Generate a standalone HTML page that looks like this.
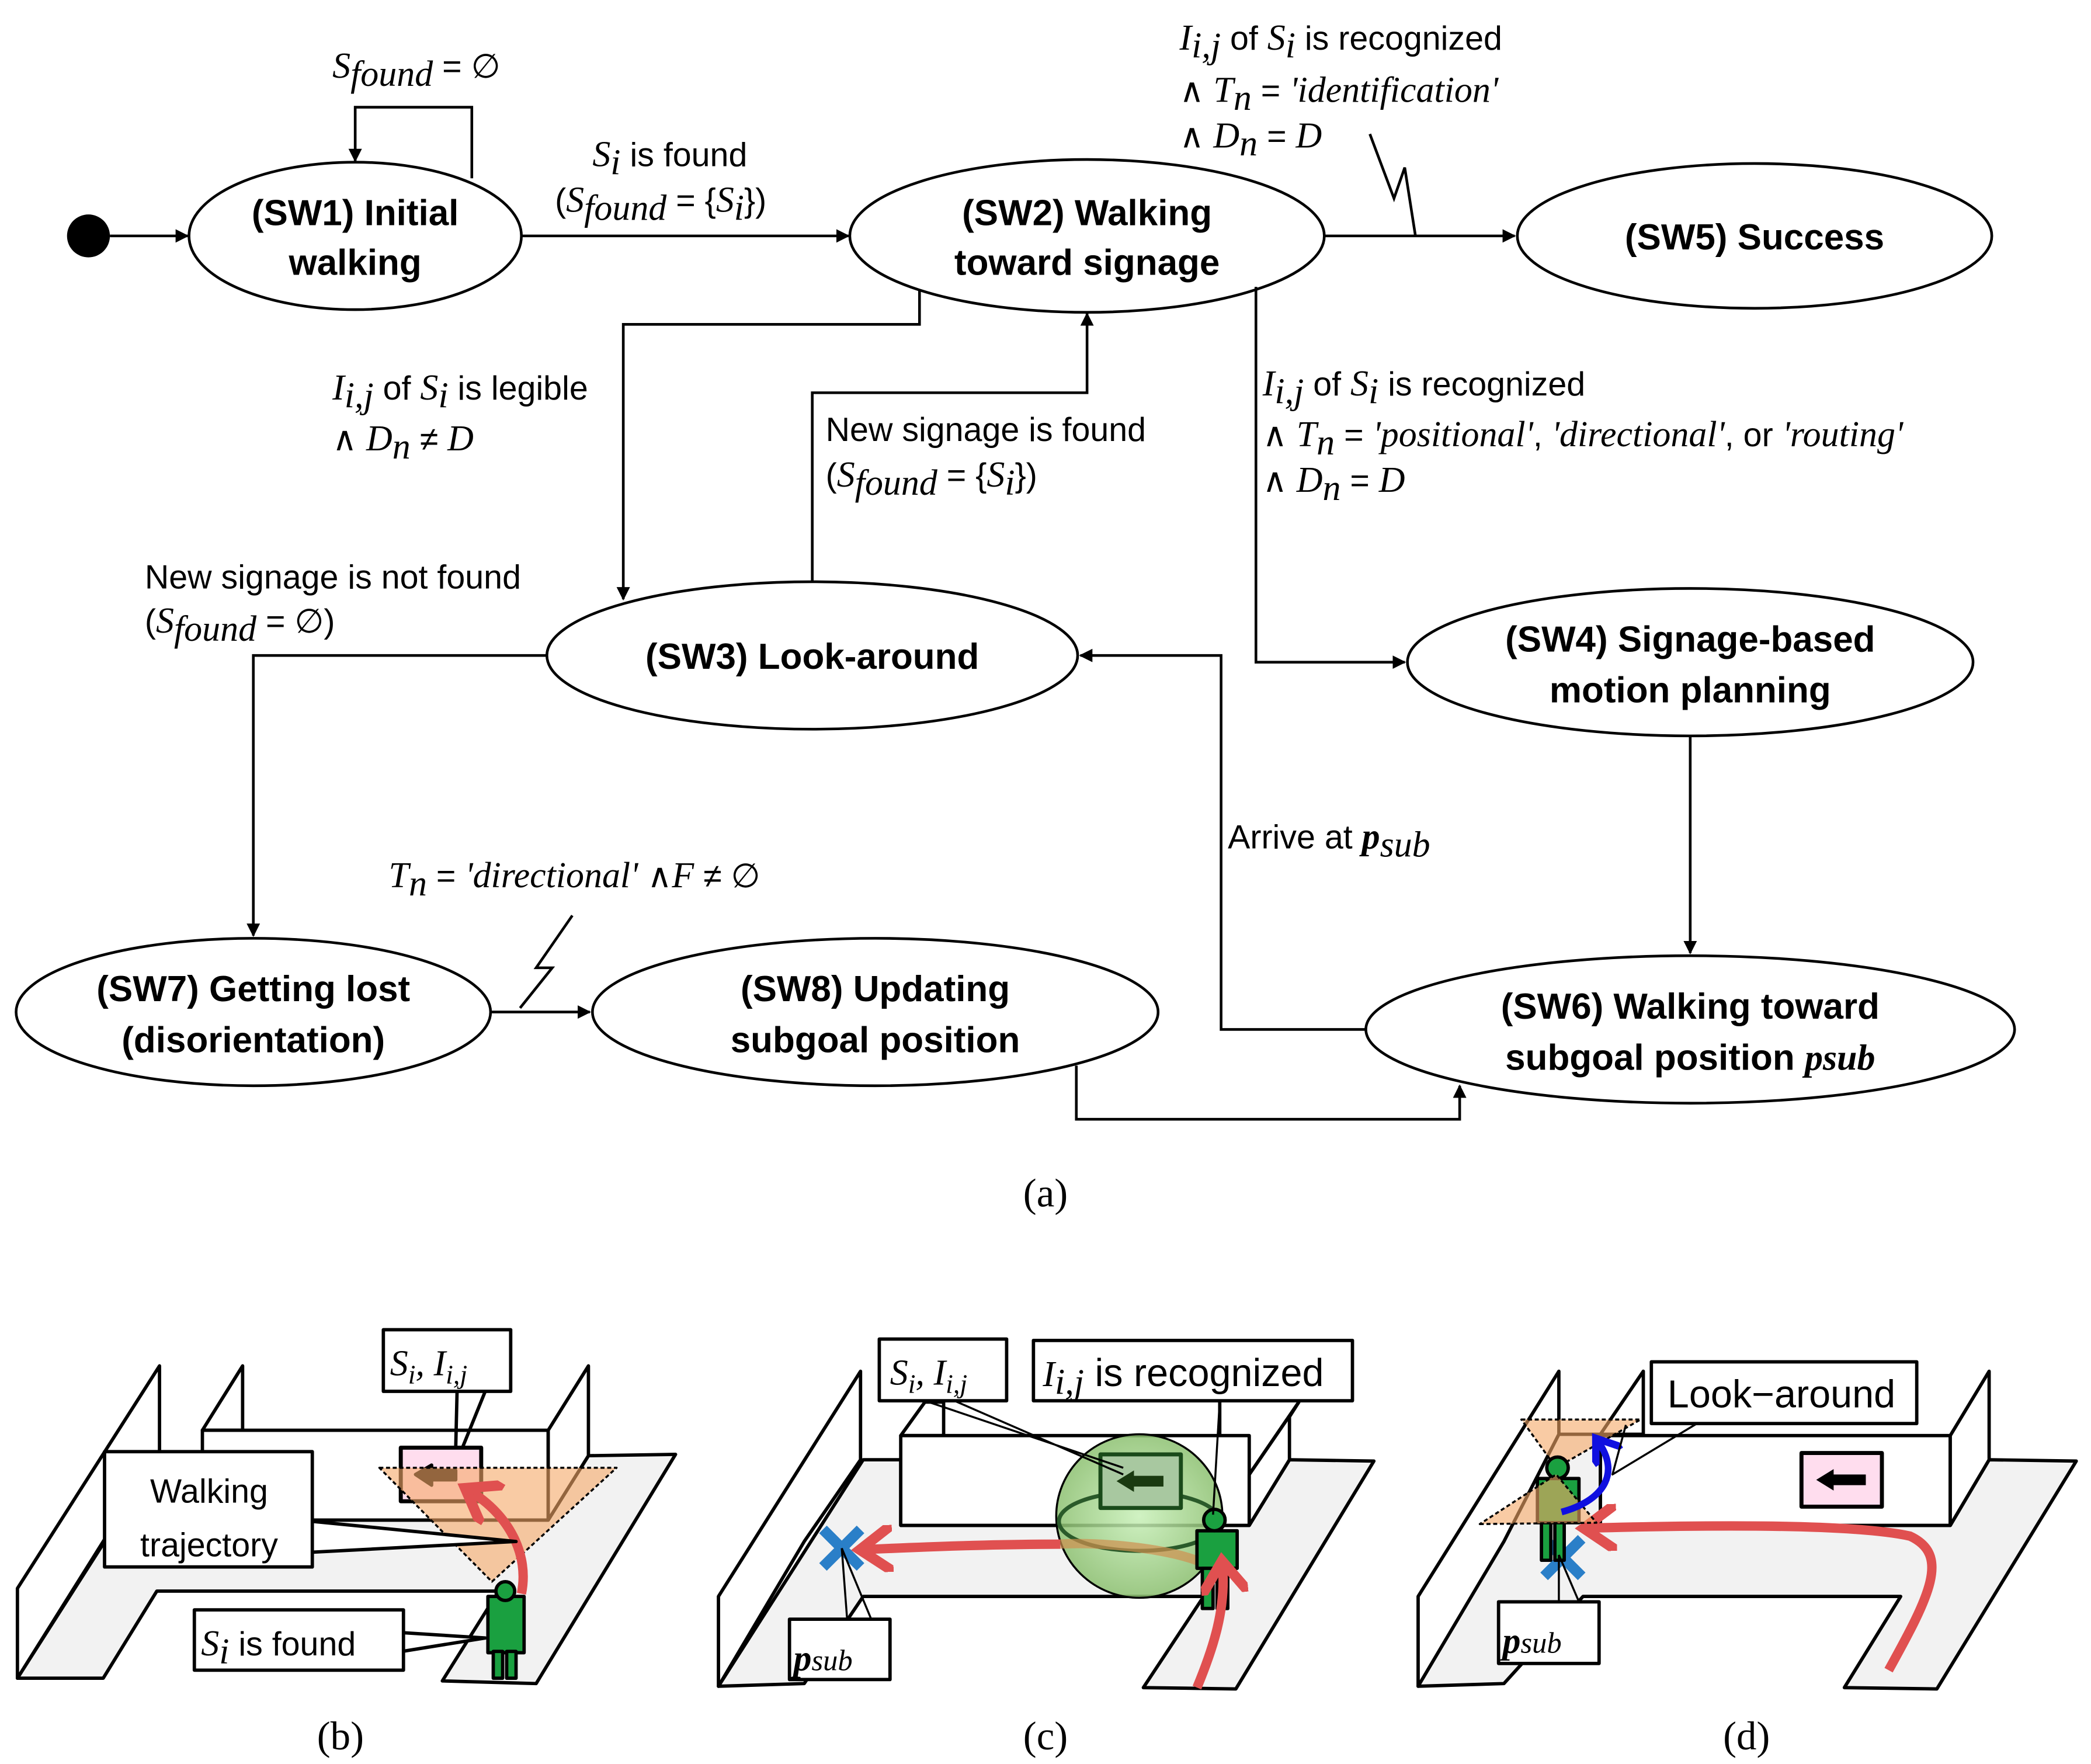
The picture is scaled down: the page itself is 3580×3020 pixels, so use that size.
<!DOCTYPE html>
<html><head><meta charset="utf-8"><style>
html,body{margin:0;padding:0;background:#fff;}
svg{display:block}
.b{font-family:"Liberation Sans",sans-serif;font-weight:bold;font-size:27px;}
.t{font-family:"Liberation Sans",sans-serif;font-size:25px;}
.m{font-family:"Liberation Serif",serif;font-style:italic;font-size:27px;}
.s{font-family:"Liberation Serif",serif;font-size:30px;}
</style></head><body>
<svg width="3580" height="3020" viewBox="0 0 1560 1316" preserveAspectRatio="none" xmlns="http://www.w3.org/2000/svg">
<defs><marker id="a" markerWidth="10" markerHeight="10" refX="9" refY="5" orient="auto" markerUnits="userSpaceOnUse"><path d="M0,0 L10,5 L0,10 z" fill="#000"/></marker>
<marker id="ar" viewBox="0 0 10 10" markerWidth="5" markerHeight="5" refX="6" refY="5" orient="auto"><path d="M0,0 L7,5 L0,10" fill="none" stroke="#e05050" stroke-width="2.2" stroke-linecap="round"/></marker>
<marker id="ab" viewBox="0 0 10 10" markerWidth="5" markerHeight="5" refX="6" refY="5" orient="auto"><path d="M0,0 L7,5 L0,10" fill="none" stroke="#1010e0" stroke-width="2.2" stroke-linecap="round"/></marker>
<radialGradient id="g" cx="0.5" cy="0.5" r="0.5"><stop offset="0" stop-color="#c8f0b8"/><stop offset="1" stop-color="#8cc070"/></radialGradient></defs>
<g fill="none" stroke="#000" stroke-width="2">
<ellipse cx="265" cy="176" rx="124" ry="55" fill="#fff"/>
<ellipse cx="811" cy="176" rx="177" ry="57" fill="#fff"/>
<ellipse cx="1309" cy="176" rx="177" ry="54" fill="#fff"/>
<ellipse cx="606" cy="489" rx="198" ry="55" fill="#fff"/>
<ellipse cx="1261" cy="494" rx="211" ry="55" fill="#fff"/>
<ellipse cx="189" cy="755" rx="177" ry="55" fill="#fff"/>
<ellipse cx="653" cy="755" rx="211" ry="55" fill="#fff"/>
<ellipse cx="1261" cy="768" rx="242" ry="55" fill="#fff"/>
<path d="M82,176 H140" marker-end="url(#a)"/>
<path d="M352,133 V80 H265 V120" marker-end="url(#a)"/>
<path d="M389,176 H633" marker-end="url(#a)"/>
<path d="M988,176 H1130" marker-end="url(#a)"/>
<path d="M1022,100 L1040,148 L1048,125 L1056,176"/>
<path d="M686,216 V242 H465 V447" marker-end="url(#a)"/>
<path d="M606,434 V293 H811 V234" marker-end="url(#a)"/>
<path d="M937,214 V494 H1048" marker-end="url(#a)"/>
<path d="M1261,549 V711" marker-end="url(#a)"/>
<path d="M1019,768 H911 V489 H806" marker-end="url(#a)"/>
<path d="M408,489 H189 V698" marker-end="url(#a)"/>
<path d="M366,755 H440" marker-end="url(#a)"/>
<path d="M427,683 L400,722 L412,722 L388,752"/>
<path d="M803,795 V835 H1089 V810" marker-end="url(#a)"/>
</g>
<circle cx="66" cy="176" r="16" fill="#000"/>
<g class="b" text-anchor="middle">
<text x="265" y="168">(SW1) Initial</text><text x="265" y="205">walking</text>
<text x="811" y="168">(SW2) Walking</text><text x="811" y="205">toward signage</text>
<text x="1309" y="186">(SW5) Success</text>
<text x="606" y="499">(SW3) Look-around</text>
<text x="1261" y="486">(SW4) Signage-based</text><text x="1261" y="524">motion planning</text>
<text x="189" y="747">(SW7) Getting lost</text><text x="189" y="785">(disorientation)</text>
<text x="653" y="747">(SW8) Updating</text><text x="653" y="785">subgoal position</text>
<text x="1261" y="760">(SW6) Walking toward</text><text x="1261" y="798">subgoal position <tspan class="m">p</tspan><tspan class="m" font-size="18">sub</tspan></text>
</g>
<g class="t">
<text x="248" y="58"><tspan class="m">S</tspan><tspan class="m" font-size="18" dy="6">found</tspan><tspan dy="-6"> = ∅</tspan></text>
<text x="442" y="124"><tspan class="m">S</tspan><tspan class="m" font-size="18" dy="6">i</tspan><tspan dy="-6"> is found</tspan></text>
<text x="414" y="158">(<tspan class="m">S</tspan><tspan class="m" font-size="18" dy="6">found</tspan><tspan dy="-6"> = {</tspan><tspan class="m">S</tspan><tspan class="m" font-size="18" dy="6">i</tspan><tspan dy="-6">})</tspan></text>
<text x="880" y="37"><tspan class="m">I</tspan><tspan class="m" font-size="18" dy="6">i,j</tspan><tspan dy="-6"> of </tspan><tspan class="m">S</tspan><tspan class="m" font-size="18" dy="6">i</tspan><tspan dy="-6"> is recognized</tspan></text>
<text x="880" y="76">∧ <tspan class="m">T</tspan><tspan class="m" font-size="18" dy="6">n</tspan><tspan dy="-6"> = </tspan><tspan class="m">'identification'</tspan></text>
<text x="880" y="110">∧ <tspan class="m">D</tspan><tspan class="m" font-size="18" dy="6">n</tspan><tspan dy="-6"> = </tspan><tspan class="m">D</tspan></text>
<text x="248" y="298"><tspan class="m">I</tspan><tspan class="m" font-size="18" dy="6">i,j</tspan><tspan dy="-6"> of </tspan><tspan class="m">S</tspan><tspan class="m" font-size="18" dy="6">i</tspan><tspan dy="-6"> is legible</tspan></text>
<text x="248" y="336">∧ <tspan class="m">D</tspan><tspan class="m" font-size="18" dy="6">n</tspan><tspan dy="-6"> ≠ </tspan><tspan class="m">D</tspan></text>
<text x="616" y="329">New signage is found</text>
<text x="616" y="363">(<tspan class="m">S</tspan><tspan class="m" font-size="18" dy="6">found</tspan><tspan dy="-6"> = {</tspan><tspan class="m">S</tspan><tspan class="m" font-size="18" dy="6">i</tspan><tspan dy="-6">})</tspan></text>
<text x="942" y="295"><tspan class="m">I</tspan><tspan class="m" font-size="18" dy="6">i,j</tspan><tspan dy="-6"> of </tspan><tspan class="m">S</tspan><tspan class="m" font-size="18" dy="6">i</tspan><tspan dy="-6"> is recognized</tspan></text>
<text x="942" y="333">∧ <tspan class="m">T</tspan><tspan class="m" font-size="18" dy="6">n</tspan><tspan dy="-6"> = </tspan><tspan class="m">'positional'</tspan>, <tspan class="m">'directional'</tspan>, or <tspan class="m">'routing'</tspan></text>
<text x="942" y="367">∧ <tspan class="m">D</tspan><tspan class="m" font-size="18" dy="6">n</tspan><tspan dy="-6"> = </tspan><tspan class="m">D</tspan></text>
<text x="108" y="439">New signage is not found</text>
<text x="108" y="472">(<tspan class="m">S</tspan><tspan class="m" font-size="18" dy="6">found</tspan><tspan dy="-6"> = ∅)</tspan></text>
<text x="916" y="633">Arrive at <tspan class="m" font-weight="bold">p</tspan><tspan class="m" font-size="18" dy="6">sub</tspan></text>
<text x="290" y="662"><tspan class="m">T</tspan><tspan class="m" font-size="18" dy="6">n</tspan><tspan dy="-6"> = </tspan><tspan class="m">'directional'</tspan> ∧<tspan class="m">F</tspan> ≠ ∅</text>
</g>
<text class="s" x="780" y="900" text-anchor="middle">(a)</text>
<text class="s" x="254" y="1305" text-anchor="middle">(b)</text>
<text class="s" x="780" y="1305" text-anchor="middle">(c)</text>
<text class="s" x="1303" y="1305" text-anchor="middle">(d)</text>

<!-- panel b -->
<g stroke="#000" stroke-width="2.5" stroke-linejoin="round">
<polygon points="13,1252 77,1252 117,1187 372,1187 330,1254 400,1256 504,1085 439,1086 409,1134 150,1134 150,1086 119,1086" fill="#f2f2f2"/>
<polygon points="13,1185 119,1019 119,1082 77,1150 13,1252" fill="#fff"/>
<polygon points="151,1067 181,1019 181,1067" fill="#fff"/>
<rect x="151" y="1067" width="258" height="67" fill="#fff"/>
<polygon points="409,1067 439,1019 439,1086 409,1134" fill="#fff"/>
<rect x="299" y="1080" width="60" height="40" fill="#fde" stroke-width="3"/>
<path d="M310,1100 L322,1093 L322,1097 L340,1097 L340,1104 L322,1104 L322,1108 Z" fill="#000"/>
<polygon points="283,1095 460,1095 367,1180" fill="#f5a868" fill-opacity="0.6" stroke-dasharray="3,2" stroke-width="1.5"/>
<path d="M389,1189 C395,1160 380,1130 350,1112" fill="none" stroke="#e05050" stroke-width="7" marker-end="url(#ar)"/>
<rect x="364" y="1191" width="27" height="42" fill="#1aa040"/><circle cx="377" cy="1187" r="7" fill="#1aa040"/>
<rect x="368" y="1232" width="7" height="20" fill="#1aa040"/><rect x="378" y="1232" width="7" height="20" fill="#1aa040"/>
<path d="M340,1080 L341,1038 M345,1080 L362,1038" fill="none"/>
<path d="M233,1135 L385,1150 L233,1158" fill="#fff"/>
<path d="M300,1218 L362,1222 L300,1232" fill="#fff"/>
<rect x="286" y="992" width="95" height="46" fill="#fff"/>
<rect x="78" y="1083" width="155" height="86" fill="#fff"/>
<rect x="145" y="1201" width="156" height="45" fill="#fff"/>
</g>
<g class="t" font-size="28"><text x="291" y="1026" class="m" font-size="30">S<tspan font-size="20" dy="6">i</tspan><tspan dy="-6">, I</tspan><tspan font-size="20" dy="6">i,j</tspan></text>
<text x="156" y="1121" text-anchor="middle">Walking</text><text x="156" y="1161" text-anchor="middle">trajectory</text>
<text x="150" y="1235"><tspan class="m" font-size="30">S</tspan><tspan class="m" font-size="20" dy="6">i</tspan><tspan dy="-6"> is found</tspan></text></g>

<!-- panel c -->
<g stroke="#000" stroke-width="2.5" stroke-linejoin="round">
<polygon points="536,1258 600,1256 644,1191 898,1191 853,1259 922,1260 1025,1090 962,1089 932,1138 672,1138 672,1089 644,1089" fill="#f2f2f2"/>
<polygon points="536,1191 642,1023 642,1089 600,1150 536,1258" fill="#fff"/>
<polygon points="672,1071 690,1046 704,1046 704,1071" fill="#fff"/>
<rect x="672" y="1071" width="260" height="67" fill="#fff"/>
<polygon points="932,1138 962,1089 962,1057 969,1046 932,1100" fill="#fff"/>
<path d="M910,1071 L910,1045 M932,1100 L969,1046" fill="none"/>
<ellipse cx="850" cy="1131" rx="62" ry="61" fill="url(#g)" fill-opacity="0.85" stroke-width="1.5"/>
<ellipse cx="850" cy="1135" rx="60" ry="22" fill="none" stroke="#2a5a2a" stroke-width="3"/>
<rect x="821" y="1085" width="60" height="40" fill="#a8c8a0" stroke="#1a4a1a" stroke-width="3"/>
<path d="M833,1105 L846,1097 L846,1101 L868,1101 L868,1109 L846,1109 L846,1113 Z" fill="#1a3a10" stroke="none"/>
<path d="M790,1152 C820,1150 870,1155 895,1165" fill="none" stroke="#d09050" stroke-width="7" stroke-opacity="0.7"/>
<rect x="893" y="1142" width="30" height="28" fill="#1aa040"/><circle cx="906" cy="1134" r="8" fill="#1aa040"/>
<rect x="897" y="1170" width="8" height="30" fill="#1aa040"/><rect x="908" y="1170" width="8" height="30" fill="#1aa040"/>
<path d="M893,1259 C905,1230 915,1200 912,1168" fill="none" stroke="#e05050" stroke-width="7" marker-end="url(#ar)"/>
<path d="M791,1152 C740,1152 690,1154 645,1156" fill="none" stroke="#e05050" stroke-width="7" marker-end="url(#ar)"/>
<path d="M614,1141 L642,1169 M642,1141 L614,1169" stroke="#2a7fc8" stroke-width="8"/>
<path d="M690,1045 L838,1095 M712,1045 L838,1100 M910,1045 L905,1130" fill="none" stroke-width="1.5"/>
<path d="M628,1155 L632,1208 M628,1155 L650,1208" fill="none" stroke-width="1.5"/>
<rect x="656" y="999" width="95" height="46" fill="#fff"/>
<rect x="771" y="1000" width="238" height="45" fill="#fff"/>
<rect x="589" y="1208" width="75" height="45" fill="#fff"/>
</g>
<g class="t" font-size="28"><text x="664" y="1033" class="m" font-size="30">S<tspan font-size="20" dy="6">i</tspan><tspan dy="-6">, I</tspan><tspan font-size="20" dy="6">i,j</tspan></text>
<text x="778" y="1034"><tspan class="m" font-size="30">I</tspan><tspan class="m" font-size="20" dy="6">i,j</tspan><tspan dy="-6" font-size="29"> is recognized</tspan></text>
<text x="592" y="1246" class="m" font-weight="bold" font-size="32">p<tspan font-size="22" font-weight="normal">sub</tspan></text></g>

<!-- panel d -->
<g stroke="#000" stroke-width="2.5" stroke-linejoin="round">
<polygon points="1058,1258 1122,1256 1181,1191 1418,1191 1376,1259 1445,1260 1549,1090 1484,1089 1455,1138 1194,1138 1194,1070 1163,1070" fill="#f2f2f2"/>
<polygon points="1058,1191 1163,1023 1163,1070 1122,1150 1058,1258" fill="#fff"/>
<polygon points="1194,1070 1226,1023 1226,1070" fill="#fff"/>
<rect x="1194" y="1071" width="261" height="67" fill="#fff"/>
<polygon points="1455,1138 1455,1071 1484,1023 1484,1089" fill="#fff"/>
<rect x="1344" y="1084" width="60" height="40" fill="#fde" stroke-width="3"/>
<path d="M1355,1104 L1368,1096 L1368,1100 L1392,1100 L1392,1108 L1368,1108 L1368,1112 Z" fill="#000" stroke="none"/>
<path d="M1409,1246 C1440,1190 1455,1160 1425,1146 C1380,1136 1260,1138 1185,1140" fill="none" stroke="#e05050" stroke-width="7" marker-end="url(#ar)"/>
<path d="M1152,1148 L1180,1176 M1180,1148 L1152,1176" stroke="#2a7fc8" stroke-width="8"/>
<polygon points="1135,1059 1224,1059 1161,1095" fill="#f5a868" fill-opacity="0.6" stroke-dasharray="3,2" stroke-width="1.5"/>
<rect x="1147" y="1103" width="31" height="33" fill="#1aa040"/><circle cx="1162" cy="1095" r="8" fill="#1aa040"/>
<rect x="1150" y="1136" width="7" height="28" fill="#1aa040"/><rect x="1160" y="1136" width="7" height="28" fill="#1aa040"/>
<polygon points="1104,1137 1191,1136 1161,1100" fill="#f5a868" fill-opacity="0.6" stroke-dasharray="3,2" stroke-width="1.5"/>
<path d="M1165,1128 C1195,1120 1210,1100 1192,1075" fill="none" stroke="#1010e0" stroke-width="5" marker-end="url(#ab)"/>
<path d="M1266,1062 L1203,1100 L1213,1063 M1163,1160 L1163,1195 M1163,1160 L1178,1195" fill="none" stroke-width="1.5"/>
<rect x="1232" y="1016" width="198" height="46" fill="#fff"/>
<rect x="1118" y="1195" width="75" height="46" fill="#fff"/>
</g>
<g class="t" font-size="28"><text x="1244" y="1050" font-size="29">Look−around</text>
<text x="1121" y="1233" class="m" font-weight="bold" font-size="32">p<tspan font-size="22" font-weight="normal">sub</tspan></text></g>
</svg>
</body></html>
